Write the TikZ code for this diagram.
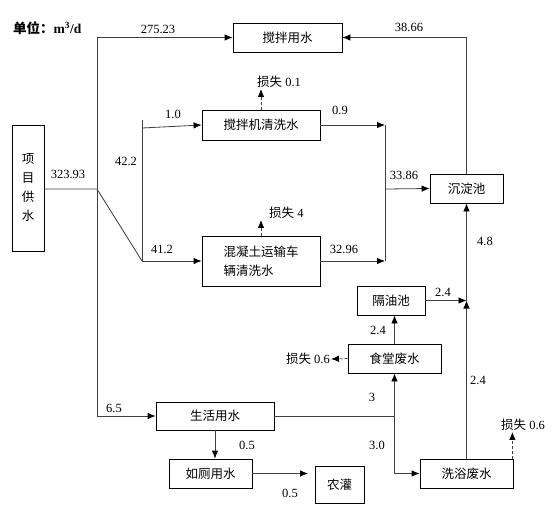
\documentclass[tikz,border=0pt]{standalone}
\usepackage{fontspec}
\setmainfont{Liberation Serif}
\newfontfamily\cjk{Noto Sans CJK SC}
\usetikzlibrary{arrows.meta,positioning,calc}

\begin{document}
\begin{tikzpicture}[x=1pt,y=-1pt,font=\fontsize{12.5}{15}\selectfont,
  box/.style={draw,line width=0.8pt,inner sep=0pt,font=\fontsize{12.5}{19}\selectfont\cjk},
  pipe/.style={draw=black!75,line width=0.8pt},
  flow/.style={pipe,-{Latex[length=8pt,width=6.5pt,black]}},
  lossflow/.style={flow,dash pattern=on 3pt off 2pt},
  num/.style={inner sep=1pt}]
\useasboundingbox (0,0) rectangle (555,512);
\node[anchor=west,inner sep=0pt,font=\fontsize{13.5}{15}\selectfont] (unit) at (13,28) {{\cjk\bfseries 单位：}\textbf{m\textsuperscript{3}/d}};
% boxes
\node[box,minimum width=32,minimum height=126,align=center] (supply) at (28,188) {项\\目\\供\\水};
\node[box,minimum width=109,minimum height=29] (mixw) at (287.5,37.5) {搅拌用水};
\node[box,minimum width=118,minimum height=30] (mixer) at (261,125) {搅拌机清洗水};
\node[box,minimum width=118,minimum height=50,align=left] (truck) at (261,261) {混凝土运输车\\辆清洗水};
\node[box,minimum width=73,minimum height=29] (settle) at (466.5,188.5) {沉淀池};
\node[box,minimum width=68,minimum height=29] (oil) at (391,300.5) {隔油池};
\node[box,minimum width=93,minimum height=29] (canteen) at (394.5,358.5) {食堂废水};
\node[box,minimum width=118,minimum height=28] (life) at (215,416) {生活用水};
\node[box,minimum width=93,minimum height=29] (bath) at (466.5,473.5) {洗浴废水};
\node[box,minimum width=83,minimum height=29] (wc) at (210.5,473.5) {如厕用水};
\node[box,minimum width=49,minimum height=37] (farm) at (339.5,484.5) {农灌};
% losses
\node[num,anchor=west] (loss1) at (256,82) {{\cjk 损失} 0.1};
\node[num,anchor=west] (loss2) at (268,213) {{\cjk 损失} 4};
\node[num,anchor=east] (loss3) at (331,359) {{\cjk 损失} 0.6};
\node[num] (loss4) at (523,425) {{\cjk 损失} 0.6};
% junctions
\coordinate (j0) at (97,189);
\coordinate (j1) at (142,261);
\coordinate (j2) at (142,120);
\coordinate (j3) at (142,128);
\coordinate (j4) at (385,125);
\coordinate (j5) at (385,261);
\coordinate (j6) at (385,189);
\coordinate (j7) at (bath.north |- oil.east);
\coordinate (j8) at (394.5,416);
\coordinate (farmin) at (308,473.5);
% pipes
\draw[pipe] (supply.east |- j0) -- (j0) -- (j1);
\draw[flow] (j0) |- (mixw.west);
\draw[flow] (j0) |- (life.west);
\draw[pipe] (j2) -- (j1);
\draw[flow] (j3) -- (mixer.west);
\draw[flow] (j1) -- (truck.west);
\draw[flow] (mixer.east) -- (j4);
\draw[flow] (truck.east) -- (j5);
\draw[pipe] (j4) -- (j5);
\draw[flow] (j6) -- (settle.west);
\draw[flow] (settle.north) |- (mixw.east);
\draw[flow] (canteen.north) -- (canteen.north |- oil.south);
\draw[flow] (oil.east) -- (j7);
\draw[flow] (bath.north) -- (j7);
\draw[flow] (j7) -- (settle.south);
\draw[pipe] (life.east) -- (j8);
\draw[flow] (j8) -- (canteen.south);
\draw[flow] (j8) |- (bath.west);
\draw[flow] (life.south) -- (life.south |- wc.north);
\draw[flow] (wc.east) -- (farmin);
\draw[lossflow] (mixer.north) -- (mixer.north |- loss1.south);
\draw[lossflow] (truck.north) -- (truck.north |- loss2.south);
\draw[lossflow] (canteen.west) -- (loss3.east);
\draw[lossflow] ([xshift=-1pt]bath.north east) -- ([xshift=-1pt]bath.north east |- loss4.south);
% flow values
\foreach \p/\t [count=\i] in {{158,29}/275.23,{409,27}/38.66,{173,114}/1.0,{340,110}/0.9,
  {126,161}/42.2,{68,174}/323.93,{162,249}/41.2,{404,175}/33.86,{344,249}/32.96,
  {485,241}/4.8,{443,292}/2.4,{378,330}/2.4,{478,380}/2.4,{372,397}/3,{377,445}/3.0,
  {114,408}/6.5,{247,445}/0.5,{290,493}/0.5}
  \node[num] (v\i) at (\p) {\t};
\end{tikzpicture}
\end{document}
